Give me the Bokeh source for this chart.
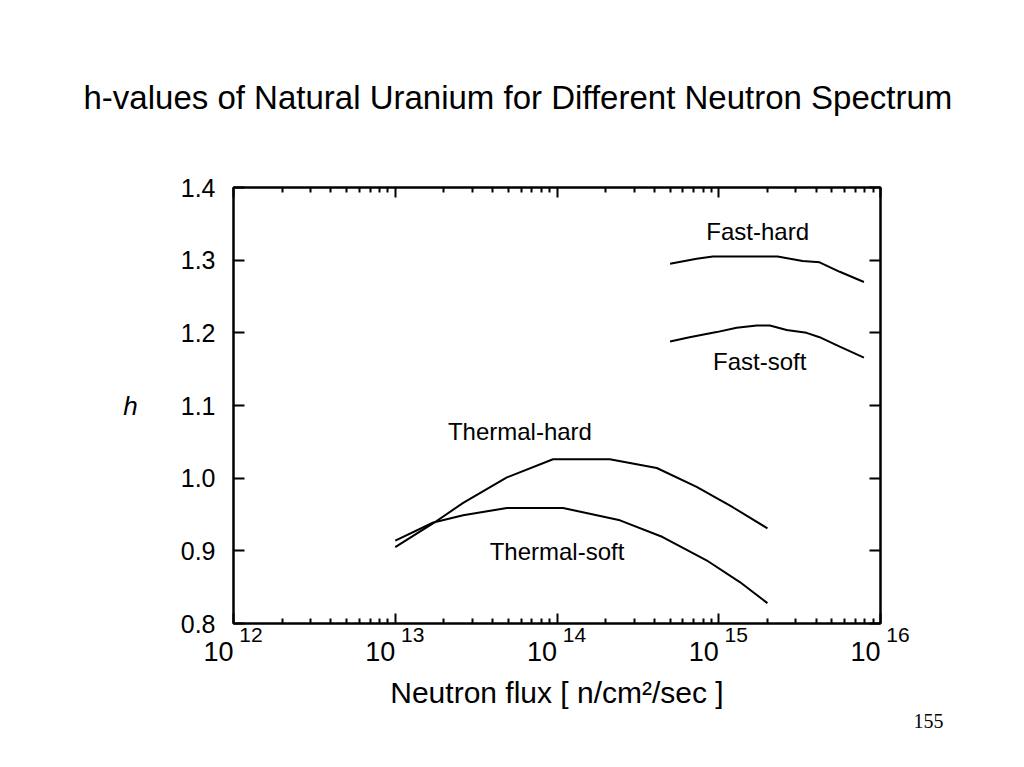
from bokeh.plotting import figure
from bokeh.models import (LabelSet, ColumnDataSource, FixedTicker, LogAxis, Title,
                          LinearAxis, CustomJSTickFormatter, PrintfTickFormatter, Range1d)
from bokeh.core.properties import value
from bokeh.embed import file_html
from bokeh.resources import INLINE

# ---------------- data ----------------
thermal_hard_flux = [1.0e13, 1.72e13, 2.63e13, 4.9e13, 9.45e13, 2.12e14, 4.14e14, 7.3e14, 1.22e15, 2.0e15]
thermal_hard_h = [0.905, 0.938, 0.966, 1.001, 1.026, 1.026, 1.014, 0.988, 0.960, 0.931]

thermal_soft_flux = [1.0e13, 1.72e13, 2.63e13, 4.9e13, 1.09e14, 2.45e14, 4.5e14, 8.4e14, 1.35e15, 2.0e15]
thermal_soft_h = [0.914, 0.939, 0.949, 0.959, 0.959, 0.942, 0.919, 0.887, 0.857, 0.828]

fast_hard_flux = [5.0e14, 7.3e14, 9.2e14, 2.31e15, 3.3e15, 4.2e15, 5.6e15, 7.9e15]
fast_hard_h = [1.295, 1.302, 1.305, 1.305, 1.299, 1.297, 1.284, 1.270]

fast_soft_flux = [5.0e14, 6.6e14, 9.7e14, 1.29e15, 1.72e15, 2.07e15, 2.63e15, 3.49e15, 4.2e15, 5.6e15, 7.9e15]
fast_soft_h = [1.188, 1.194, 1.201, 1.207, 1.210, 1.210, 1.204, 1.200, 1.194, 1.181, 1.166]

x_ticks = [1e12, 1e13, 1e14, 1e15, 1e16]
x_tick_base = ["10", "10", "10", "10", "10"]
x_tick_exp = ["12", "13", "14", "15", "16"]
x_minor_ticks = [m * d for d in [1e12, 1e13, 1e14, 1e15] for m in range(2, 10)]
y_ticks = [0.8, 0.9, 1.0, 1.1, 1.2, 1.3, 1.4]

curve_names = ["Fast-hard", "Fast-soft", "Thermal-hard", "Thermal-soft"]
curve_label_x = [1.74e15, 1.79e15, 5.9e13, 1.0e14]
curve_label_y = [1.328, 1.149, 1.052, 0.887]

title_text = "h-values of Natural Uranium for Different Neutron Spectrum"
x_label = "Neutron flux [ n/cm\u00b2/sec ]"
y_label = "h"
page_number = "155"

FONT = "Liberation Sans"

p = figure(width=1016, height=758, x_axis_type="log",
           x_range=Range1d(1e12, 1e16), y_range=Range1d(0.8, 1.4),
           output_backend="svg", toolbar_location=None,
           min_border_left=233, min_border_right=136,
           min_border_top=187, min_border_bottom=135)
p.background_fill_color = "white"
p.border_fill_color = "white"
p.outline_line_color = "black"
p.outline_line_width = 2
p.xgrid.visible = False
p.ygrid.visible = False

empty = CustomJSTickFormatter(code="return ''")

xt = FixedTicker(ticks=x_ticks, minor_ticks=x_minor_ticks)
yt = FixedTicker(ticks=y_ticks, minor_ticks=[])

def style_axis(ax, major_in, minor_in):
    ax.axis_line_width = 2
    ax.axis_line_color = "black"
    ax.major_tick_in = major_in
    ax.major_tick_out = 0
    ax.minor_tick_in = minor_in
    ax.minor_tick_out = 0
    ax.major_tick_line_width = 2
    ax.minor_tick_line_width = 2
    ax.major_tick_line_color = "black"
    ax.minor_tick_line_color = "black"

lookup_code = """
const i = tvals.findIndex(t => Math.abs(Math.log10(t) - Math.log10(tick)) < 1e-6);
if (i < 0) return '';
return pre + labs[i] + post;
"""

# bottom axis: line, ticks and superscript exponents
xa = p.xaxis[0]
xa.ticker = xt
xa.formatter = CustomJSTickFormatter(args=dict(tvals=x_ticks, labs=x_tick_exp,
                                               pre="\u2007\u2007\u2007", post=""),
                                     code=lookup_code)
xa.major_label_text_font = FONT
xa.major_label_text_font_size = "21px"
xa.major_label_text_color = "black"
xa.major_label_standoff = -1
style_axis(xa, 10, 5)

# second bottom axis: the "10" bases and the axis title
xb = LogAxis(ticker=xt,
             formatter=CustomJSTickFormatter(args=dict(tvals=x_ticks, labs=x_tick_base,
                                                       pre="", post="\u2007\u2007"),
                                             code=lookup_code))
xb.axis_line_color = None
xb.major_tick_line_color = None
xb.minor_tick_line_color = None
xb.major_tick_in = 0
xb.major_tick_out = 0
xb.minor_tick_in = 0
xb.minor_tick_out = 0
xb.major_label_text_font = FONT
xb.major_label_text_font_size = "27px"
xb.major_label_text_color = "black"
xb.major_label_standoff = -12
xb.axis_label = x_label
xb.axis_label_text_font = FONT
xb.axis_label_text_font_size = "30px"
xb.axis_label_text_font_style = "normal"
xb.axis_label_text_color = "black"
xb.axis_label_standoff = 6
p.add_layout(xb, "below")

ya = p.yaxis[0]
ya.ticker = yt
ya.formatter = PrintfTickFormatter(format="%.1f")
ya.major_label_text_font = FONT
ya.major_label_text_font_size = "25px"
ya.major_label_text_color = "black"
ya.major_label_standoff = 18
ya.axis_label = y_label
ya.axis_label_orientation = "horizontal"
ya.axis_label_text_font = FONT
ya.axis_label_text_font_size = "26px"
ya.axis_label_text_font_style = "italic"
ya.axis_label_text_color = "black"
ya.axis_label_standoff = 40
style_axis(ya, 11, 0)

top = LogAxis(ticker=xt, formatter=empty, major_label_text_font_size="0px",
              major_label_standoff=0)
style_axis(top, 10, 5)
p.add_layout(top, "above")
right = LinearAxis(ticker=yt, formatter=empty, major_label_text_font_size="0px")
style_axis(right, 11, 0)
p.add_layout(right, "right")

for fx, hy in [(thermal_hard_flux, thermal_hard_h), (thermal_soft_flux, thermal_soft_h),
               (fast_hard_flux, fast_hard_h), (fast_soft_flux, fast_soft_h)]:
    p.line(fx, hy, line_color="black", line_width=2)

# curve labels
src = ColumnDataSource(dict(x=curve_label_x, y=curve_label_y, t=curve_names))
p.add_layout(LabelSet(x="x", y="y", text="t", source=src, text_align="center",
                      text_baseline="alphabetic", text_font=value(FONT),
                      text_font_size=value("24px"), text_color="black"))

# title
p.title.text = title_text
p.title.align = "left"
p.title.offset = -150
p.title.text_font = FONT
p.title.text_font_size = "33px"
p.title.text_font_style = "normal"
p.title.text_color = "black"
try:
    p.title.standoff = 144
except Exception:
    pass

# page number
pn = Title(text=page_number, align="right", offset=-63, text_font="Liberation Serif",
           text_font_size="20px", text_font_style="normal", text_color="black")
try:
    pn.standoff = 0
except Exception:
    pass
p.add_layout(pn, "below")

open("out.html", "w").write(file_html(p, INLINE))
